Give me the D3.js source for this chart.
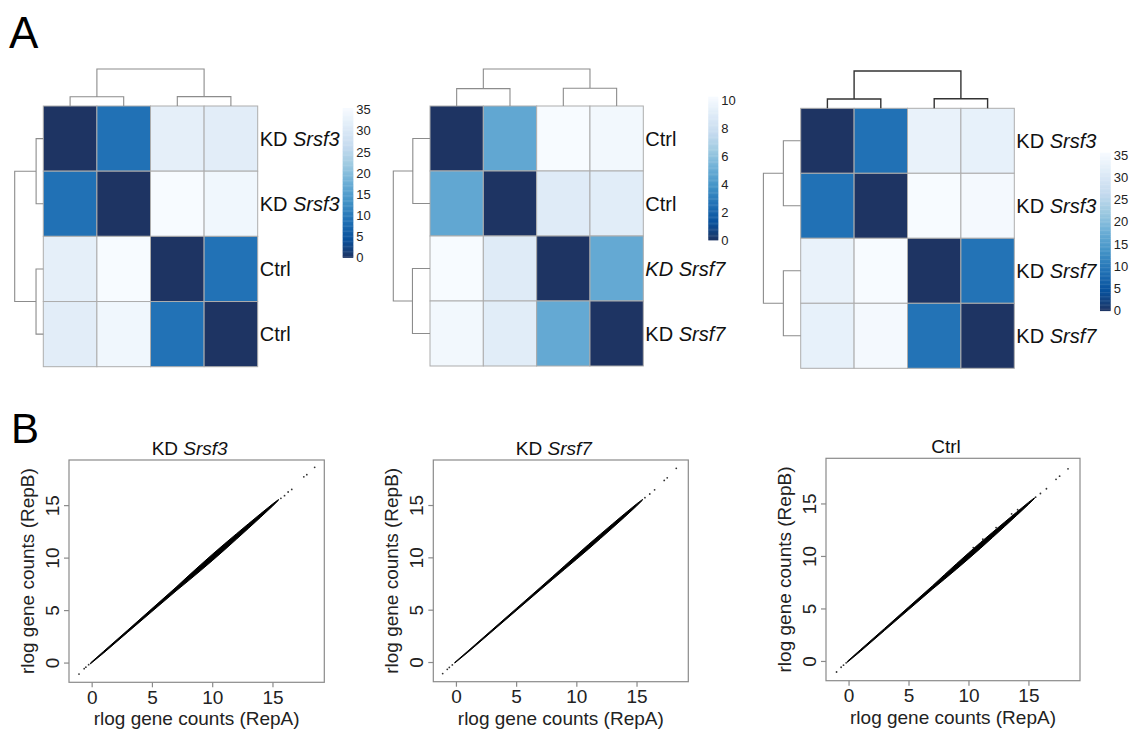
<!DOCTYPE html>
<html>
<head>
<meta charset="utf-8">
<script src="https://cdn.jsdelivr.net/npm/d3@7"></script>
<style>
  body { margin: 0; background: #fff; }
  svg { display: block; font-family: "Liberation Sans", Arial, sans-serif; }
  text { white-space: pre; }
</style>
</head>
<body>
<svg id="fig" width="1130" height="731"></svg>
<script>
  /*
   * Data
   */

  // Panel A: sample-to-sample distance matrices
  var HM1_LABELS = ["KD Srsf3", "KD Srsf3", "Ctrl", "Ctrl"];
  var HM1_VALUES = [
    [0, 8.9, 32.2, 31.6],
    [8.9, 0, 35.4, 34.2],
    [32.2, 35.4, 0, 9.0],
    [31.6, 34.2, 9.0, 0]
  ];
  var HM1_COL_TREE = [8.9, 9.0, 35.4]; // merge heights: pair 1-2, pair 3-4, root
  var HM1_ROW_TREE = [8.9, 9.0, 35.4];
  var HM1_TICKS = [0, 5, 10, 15, 20, 25, 30, 35];

  var HM2_LABELS = ["Ctrl", "Ctrl", "KD Srsf7", "KD Srsf7"];
  var HM2_ITALIC_ROWS = [2]; // label set fully in italics
  var HM2_VALUES = [
    [0, 4.8, 10.25, 10.0],
    [4.8, 0, 9.0, 9.1],
    [10.25, 9.0, 0, 4.9],
    [10.0, 9.1, 4.9, 0]
  ];
  var HM2_COL_TREE = [4.8, 4.9, 10.25];
  var HM2_ROW_TREE = [4.8, 4.9, 10.25];
  var HM2_TICKS = [0, 2, 4, 6, 8, 10];

  var HM3_LABELS = ["KD Srsf3", "KD Srsf3", "KD Srsf7", "KD Srsf7"];
  var HM3_VALUES = [
    [0, 8.9, 33.0, 32.6],
    [8.9, 0, 35.5, 35.0],
    [33.0, 35.5, 0, 9.1],
    [32.6, 35.0, 9.1, 0]
  ];
  var HM3_COL_TREE = [8.9, 9.1, 35.5];
  var HM3_ROW_TREE = [16.5, 16.5, 35.5];
  var HM3_TICKS = [0, 5, 10, 15, 20, 25, 30, 35];

  // rev(brewer.pal(9, "Blues")), darkest tone as seen in the figure
  var BLUES = ["#1e3463", "#08519c", "#2171b5", "#4292c6", "#6baed6",
               "#9ecae1", "#c6dbef", "#deebf7", "#f7fbff"];

  // Panel B: replicate scatter plots, dense band (x, lower y, upper y)
  var AXIS_TICKS = [0, 5, 10, 15];

  var SC1_TITLE = "KD Srsf3";
  var SC1_BAND_X  = [-0.1, 1, 3, 5, 7, 8, 9, 10, 11, 12, 13, 14, 15, 15.5];
  var SC1_BAND_LO = [-0.12, 0.92, 2.9, 4.86, 6.82, 7.76, 8.72, 9.7, 10.71, 11.74, 12.78, 13.83, 14.9, 15.47];
  var SC1_BAND_HI = [-0.04, 1.08, 3.1, 5.14, 7.18, 8.24, 9.28, 10.3, 11.29, 12.26, 13.22, 14.17, 15.1, 15.53];
  var SC1_SPARSE = [[-1.05, -1.1], [-0.62, -0.58], [-0.48, -0.44], [-0.25, -0.2],
                    [15.7, 15.65], [16.0, 15.9], [16.3, 16.25], [16.6, 16.5],
                    [17.6, 17.7], [17.85, 17.9], [18.5, 18.6]];

  var SC2_TITLE = "KD Srsf7";
  var SC2_BAND_X  = [-0.1, 1, 3, 5, 7, 8, 9, 10, 11, 12, 13, 14, 15, 15.5];
  var SC2_BAND_LO = [-0.1, 0.94, 2.92, 4.9, 6.88, 7.86, 8.83, 9.8, 10.78, 11.79, 12.81, 13.84, 14.9, 15.47];
  var SC2_BAND_HI = [-0.04, 1.06, 3.08, 5.1, 7.12, 8.14, 9.17, 10.2, 11.22, 12.21, 13.19, 14.16, 15.1, 15.53];
  var SC2_SPARSE = [[-1.1, -1.1], [-0.72, -0.7], [-0.55, -0.52], [-0.3, -0.28],
                    [15.7, 15.7], [16.1, 16.05], [16.5, 16.45], [17.3, 17.35],
                    [17.55, 17.6], [18.3, 18.5]];

  var SC3_TITLE = "Ctrl";
  var SC3_BAND_X  = [-0.1, 1, 3, 5, 7, 8, 9, 10, 11, 12, 13, 14, 15, 15.5];
  var SC3_BAND_LO = [-0.12, 0.92, 2.9, 4.87, 6.84, 7.78, 8.74, 9.72, 10.72, 11.75, 12.79, 13.84, 14.9, 15.47];
  var SC3_BAND_HI = [-0.04, 1.08, 3.1, 5.13, 7.16, 8.22, 9.26, 10.28, 11.28, 12.25, 13.21, 14.16, 15.1, 15.53];
  var SC3_SPARSE = [[-1.0, -1.05], [-0.62, -0.6], [-0.42, -0.4], [-0.2, -0.18],
                    [10.4, 10.8], [11.2, 11.6], [12.3, 12.7], [13.6, 14.0], [14.1, 14.4],
                    [15.6, 15.6], [16.0, 15.95], [16.5, 16.4], [17.3, 17.3],
                    [17.6, 17.6], [18.3, 18.3]];

  /*
   * Layout constants (pixels)
   */
  var FONT_LABEL = 20;
  var FONT_LEGEND = 13;
  var FONT_AXIS = 19;
  var SC_DOMAIN = [-1.88, 19.3];

  var svg = d3.select("#fig");
  svg.append("rect").attr("width", 1130).attr("height", 731).attr("fill", "#fff");

  /*
   * Helpers
   */

  // "KD Srsf3" -> "KD " upright + "Srsf3" italic
  function gene_label(sel, text, all_italic) {
    var k = text.indexOf(" ");
    if (k < 0) {
      sel.text(text);
      return;
    }
    sel.append("tspan")
      .style("font-style", all_italic ? "italic" : "normal")
      .text(text.slice(0, k + 1));
    sel.append("tspan")
      .style("font-style", "italic")
      .text(text.slice(k + 1));
  }

  function draw_heatmap(cfg) {
    var g = svg.append("g");
    var n = cfg.labels.length;
    var idx = d3.range(n);
    var vmax = d3.max(cfg.values, function (r) { return d3.max(r); });

    var x = d3.scaleBand().domain(idx).range([cfg.x0, cfg.x1]);
    var y = d3.scaleBand().domain(idx).range([cfg.y0, cfg.y1]);
    var color = d3.scaleLinear()
      .domain(BLUES.map(function (c, i) { return vmax * i / (BLUES.length - 1); }))
      .range(BLUES)
      .interpolate(d3.interpolateRgb);

    // cells
    var cells = [];
    cfg.values.forEach(function (row, i) {
      row.forEach(function (v, j) { cells.push({ r: i, c: j, v: v }); });
    });
    g.selectAll(".cell")
      .data(cells)
    .enter().append("rect")
      .attr("class", "cell")
      .attr("x", function (d) { return x(d.c); })
      .attr("y", function (d) { return y(d.r); })
      .attr("width", x.bandwidth())
      .attr("height", y.bandwidth())
      .attr("fill", function (d) { return color(d.v); })
      .attr("stroke", "#adadad")
      .attr("stroke-width", 1);

    // column dendrogram
    var ch = d3.scaleLinear().domain([0, cfg.colTree[2]]).range([cfg.y0, cfg.y0 - cfg.colTreeH]);
    var cx = function (i) { return x(i) + x.bandwidth() / 2; };
    var p = d3.path();
    p.moveTo(cx(0), ch(0)); p.lineTo(cx(0), ch(cfg.colTree[0]));
    p.lineTo(cx(1), ch(cfg.colTree[0])); p.lineTo(cx(1), ch(0));
    p.moveTo(cx(2), ch(0)); p.lineTo(cx(2), ch(cfg.colTree[1]));
    p.lineTo(cx(3), ch(cfg.colTree[1])); p.lineTo(cx(3), ch(0));
    p.moveTo((cx(0) + cx(1)) / 2, ch(cfg.colTree[0]));
    p.lineTo((cx(0) + cx(1)) / 2, ch(cfg.colTree[2]));
    p.lineTo((cx(2) + cx(3)) / 2, ch(cfg.colTree[2]));
    p.lineTo((cx(2) + cx(3)) / 2, ch(cfg.colTree[1]));
    g.append("path")
      .attr("d", p.toString())
      .attr("fill", "none")
      .attr("stroke", cfg.colTreeColor || "#8c8c8c")
      .attr("stroke-width", cfg.colTreeWidth || 1.1);

    // row dendrogram
    var rh = d3.scaleLinear().domain([0, cfg.rowTree[2]]).range([cfg.x0, cfg.x0 - cfg.rowTreeW]);
    var ry = function (i) { return y(i) + y.bandwidth() / 2; };
    var q = d3.path();
    q.moveTo(rh(0), ry(0)); q.lineTo(rh(cfg.rowTree[0]), ry(0));
    q.lineTo(rh(cfg.rowTree[0]), ry(1)); q.lineTo(rh(0), ry(1));
    q.moveTo(rh(0), ry(2)); q.lineTo(rh(cfg.rowTree[1]), ry(2));
    q.lineTo(rh(cfg.rowTree[1]), ry(3)); q.lineTo(rh(0), ry(3));
    q.moveTo(rh(cfg.rowTree[0]), (ry(0) + ry(1)) / 2);
    q.lineTo(rh(cfg.rowTree[2]), (ry(0) + ry(1)) / 2);
    q.lineTo(rh(cfg.rowTree[2]), (ry(2) + ry(3)) / 2);
    q.lineTo(rh(cfg.rowTree[1]), (ry(2) + ry(3)) / 2);
    g.append("path")
      .attr("d", q.toString())
      .attr("fill", "none")
      .attr("stroke", "#8c8c8c")
      .attr("stroke-width", 1.1);

    // row labels
    cfg.labels.forEach(function (lab, i) {
      var t = g.append("text")
        .attr("x", cfg.x1 + 2)
        .attr("y", ry(i))
        .attr("dy", "0.36em")
        .attr("font-size", FONT_LABEL)
        .attr("fill", "#111");
      gene_label(t, lab, (cfg.italicRows || []).indexOf(i) >= 0);
    });

    // colour key
    var ly = d3.scaleLinear().domain([0, vmax]).range([cfg.legY1, cfg.legY0]);
    var steps = d3.range(120);
    var dv = vmax / steps.length;
    g.selectAll(".key")
      .data(steps)
    .enter().append("rect")
      .attr("class", "key")
      .attr("x", cfg.legX)
      .attr("width", cfg.legW)
      .attr("y", function (s) { return ly((s + 1) * dv); })
      .attr("height", function (s) { return ly(s * dv) - ly((s + 1) * dv) + 0.4; })
      .attr("fill", function (s) { return color((s + 0.5) * dv); });
    g.selectAll(".keylab")
      .data(cfg.ticks)
    .enter().append("text")
      .attr("class", "keylab")
      .attr("x", cfg.legX + cfg.legW + 3)
      .attr("y", function (v) { return ly(v); })
      .attr("dy", "0.36em")
      .attr("font-size", FONT_LEGEND)
      .attr("fill", "#222")
      .text(function (v) { return v; });
  }

  function draw_scatter(cfg) {
    var g = svg.append("g");
    var x = d3.scaleLinear().domain(SC_DOMAIN).range([cfg.x0, cfg.x1]);
    var y = d3.scaleLinear().domain(SC_DOMAIN).range([cfg.y1, cfg.y0]);

    // dense band of genes
    var band = cfg.bandX.map(function (v, i) { return [v, cfg.bandLo[i], cfg.bandHi[i]]; });
    g.append("path")
      .datum(band)
      .attr("d", d3.area()
        .x(function (d) { return x(d[0]); })
        .y0(function (d) { return y(d[1]); })
        .y1(function (d) { return y(d[2]); }))
      .attr("fill", "#000")
      .attr("stroke", "#000")
      .attr("stroke-width", 1)
      .attr("stroke-linejoin", "round");

    // sparse genes at both ends
    g.selectAll(".pt")
      .data(cfg.sparse)
    .enter().append("circle")
      .attr("class", "pt")
      .attr("cx", function (d) { return x(d[0]); })
      .attr("cy", function (d) { return y(d[1]); })
      .attr("r", 0.9)
      .attr("fill", "#333");

    // box
    g.append("rect")
      .attr("x", cfg.x0).attr("y", cfg.y0)
      .attr("width", cfg.x1 - cfg.x0).attr("height", cfg.y1 - cfg.y0)
      .attr("fill", "none")
      .attr("stroke", "#8a8a8a")
      .attr("stroke-width", 1.2);

    // axes
    var xa = g.append("g")
      .attr("transform", "translate(0," + cfg.y1 + ")")
      .call(d3.axisBottom(x).tickValues(AXIS_TICKS).tickSize(5));
    var ya = g.append("g")
      .attr("transform", "translate(" + cfg.x0 + ",0)")
      .call(d3.axisLeft(y).tickValues(AXIS_TICKS).tickSize(5));
    [xa, ya].forEach(function (a) {
      a.select(".domain").remove();
      a.selectAll("line").attr("stroke", "#8a8a8a").attr("stroke-width", 1.2);
      a.selectAll("text")
        .attr("font-size", FONT_AXIS)
        .attr("font-family", "Liberation Sans, Arial, sans-serif")
        .attr("fill", "#222");
    });
    xa.selectAll("text").attr("y", 8).attr("dy", "0.71em");
    ya.selectAll("text")
      .attr("x", 0)
      .attr("y", -10)
      .attr("dy", 0)
      .attr("text-anchor", "middle")
      .attr("transform", "rotate(-90)");

    // axis titles
    g.append("text")
      .attr("x", (cfg.x0 + cfg.x1) / 2)
      .attr("y", cfg.y1 + 43)
      .attr("text-anchor", "middle")
      .attr("font-size", FONT_AXIS)
      .attr("fill", "#222")
      .text("rlog gene counts (RepA)");
    g.append("text")
      .attr("transform", "translate(" + (cfg.x0 - 35) + "," + ((cfg.y0 + cfg.y1) / 2) + ") rotate(-90)")
      .attr("text-anchor", "middle")
      .attr("font-size", FONT_AXIS)
      .attr("fill", "#222")
      .text("rlog gene counts (RepB)");

    // title
    var t = g.append("text")
      .attr("x", (cfg.x0 + cfg.x1) / 2 - 7)
      .attr("y", cfg.y0 - 5)
      .attr("text-anchor", "middle")
      .attr("font-size", FONT_AXIS)
      .attr("fill", "#111");
    gene_label(t, cfg.title, false);
  }

  /*
   * Build the figure
   */

  svg.append("text").attr("x", 9).attr("y", 48)
    .attr("font-size", 44).attr("fill", "#000").text("A");
  svg.append("text").attr("x", 11).attr("y", 443)
    .attr("font-size", 42).attr("fill", "#000").text("B");

  draw_heatmap({
    labels: HM1_LABELS, values: HM1_VALUES, colTree: HM1_COL_TREE, rowTree: HM1_ROW_TREE,
    ticks: HM1_TICKS,
    x0: 43.3, x1: 257.7, y0: 106, y1: 366.7, colTreeH: 37, rowTreeW: 28.6,
    legX: 342.7, legW: 10.6, legY0: 108, legY1: 257.5
  });
  draw_heatmap({
    labels: HM2_LABELS, values: HM2_VALUES, colTree: HM2_COL_TREE, rowTree: HM2_ROW_TREE,
    ticks: HM2_TICKS, italicRows: HM2_ITALIC_ROWS,
    x0: 430, x1: 643.3, y0: 106, y1: 366, colTreeH: 37, rowTreeW: 36.7,
    legX: 708.3, legW: 10, legY0: 96.7, legY1: 240
  });
  draw_heatmap({
    labels: HM3_LABELS, values: HM3_VALUES, colTree: HM3_COL_TREE, rowTree: HM3_ROW_TREE,
    ticks: HM3_TICKS, colTreeColor: "#333", colTreeWidth: 1.4,
    x0: 800.7, x1: 1014.3, y0: 108.3, y1: 368.3, colTreeH: 37.3, rowTreeW: 37.3,
    legX: 1100, legW: 10.7, legY0: 152.7, legY1: 310.7
  });

  draw_scatter({
    title: SC1_TITLE, bandX: SC1_BAND_X, bandLo: SC1_BAND_LO, bandHi: SC1_BAND_HI, sparse: SC1_SPARSE,
    x0: 69, x1: 324.3, y0: 460, y1: 682.3
  });
  draw_scatter({
    title: SC2_TITLE, bandX: SC2_BAND_X, bandLo: SC2_BAND_LO, bandHi: SC2_BAND_HI, sparse: SC2_SPARSE,
    x0: 433.3, x1: 688.3, y0: 460, y1: 681.7
  });
  draw_scatter({
    title: SC3_TITLE, bandX: SC3_BAND_X, bandLo: SC3_BAND_LO, bandHi: SC3_BAND_HI, sparse: SC3_SPARSE,
    x0: 826, x1: 1080, y0: 458.3, y1: 680.7
  });
</script>
</body>
</html>
